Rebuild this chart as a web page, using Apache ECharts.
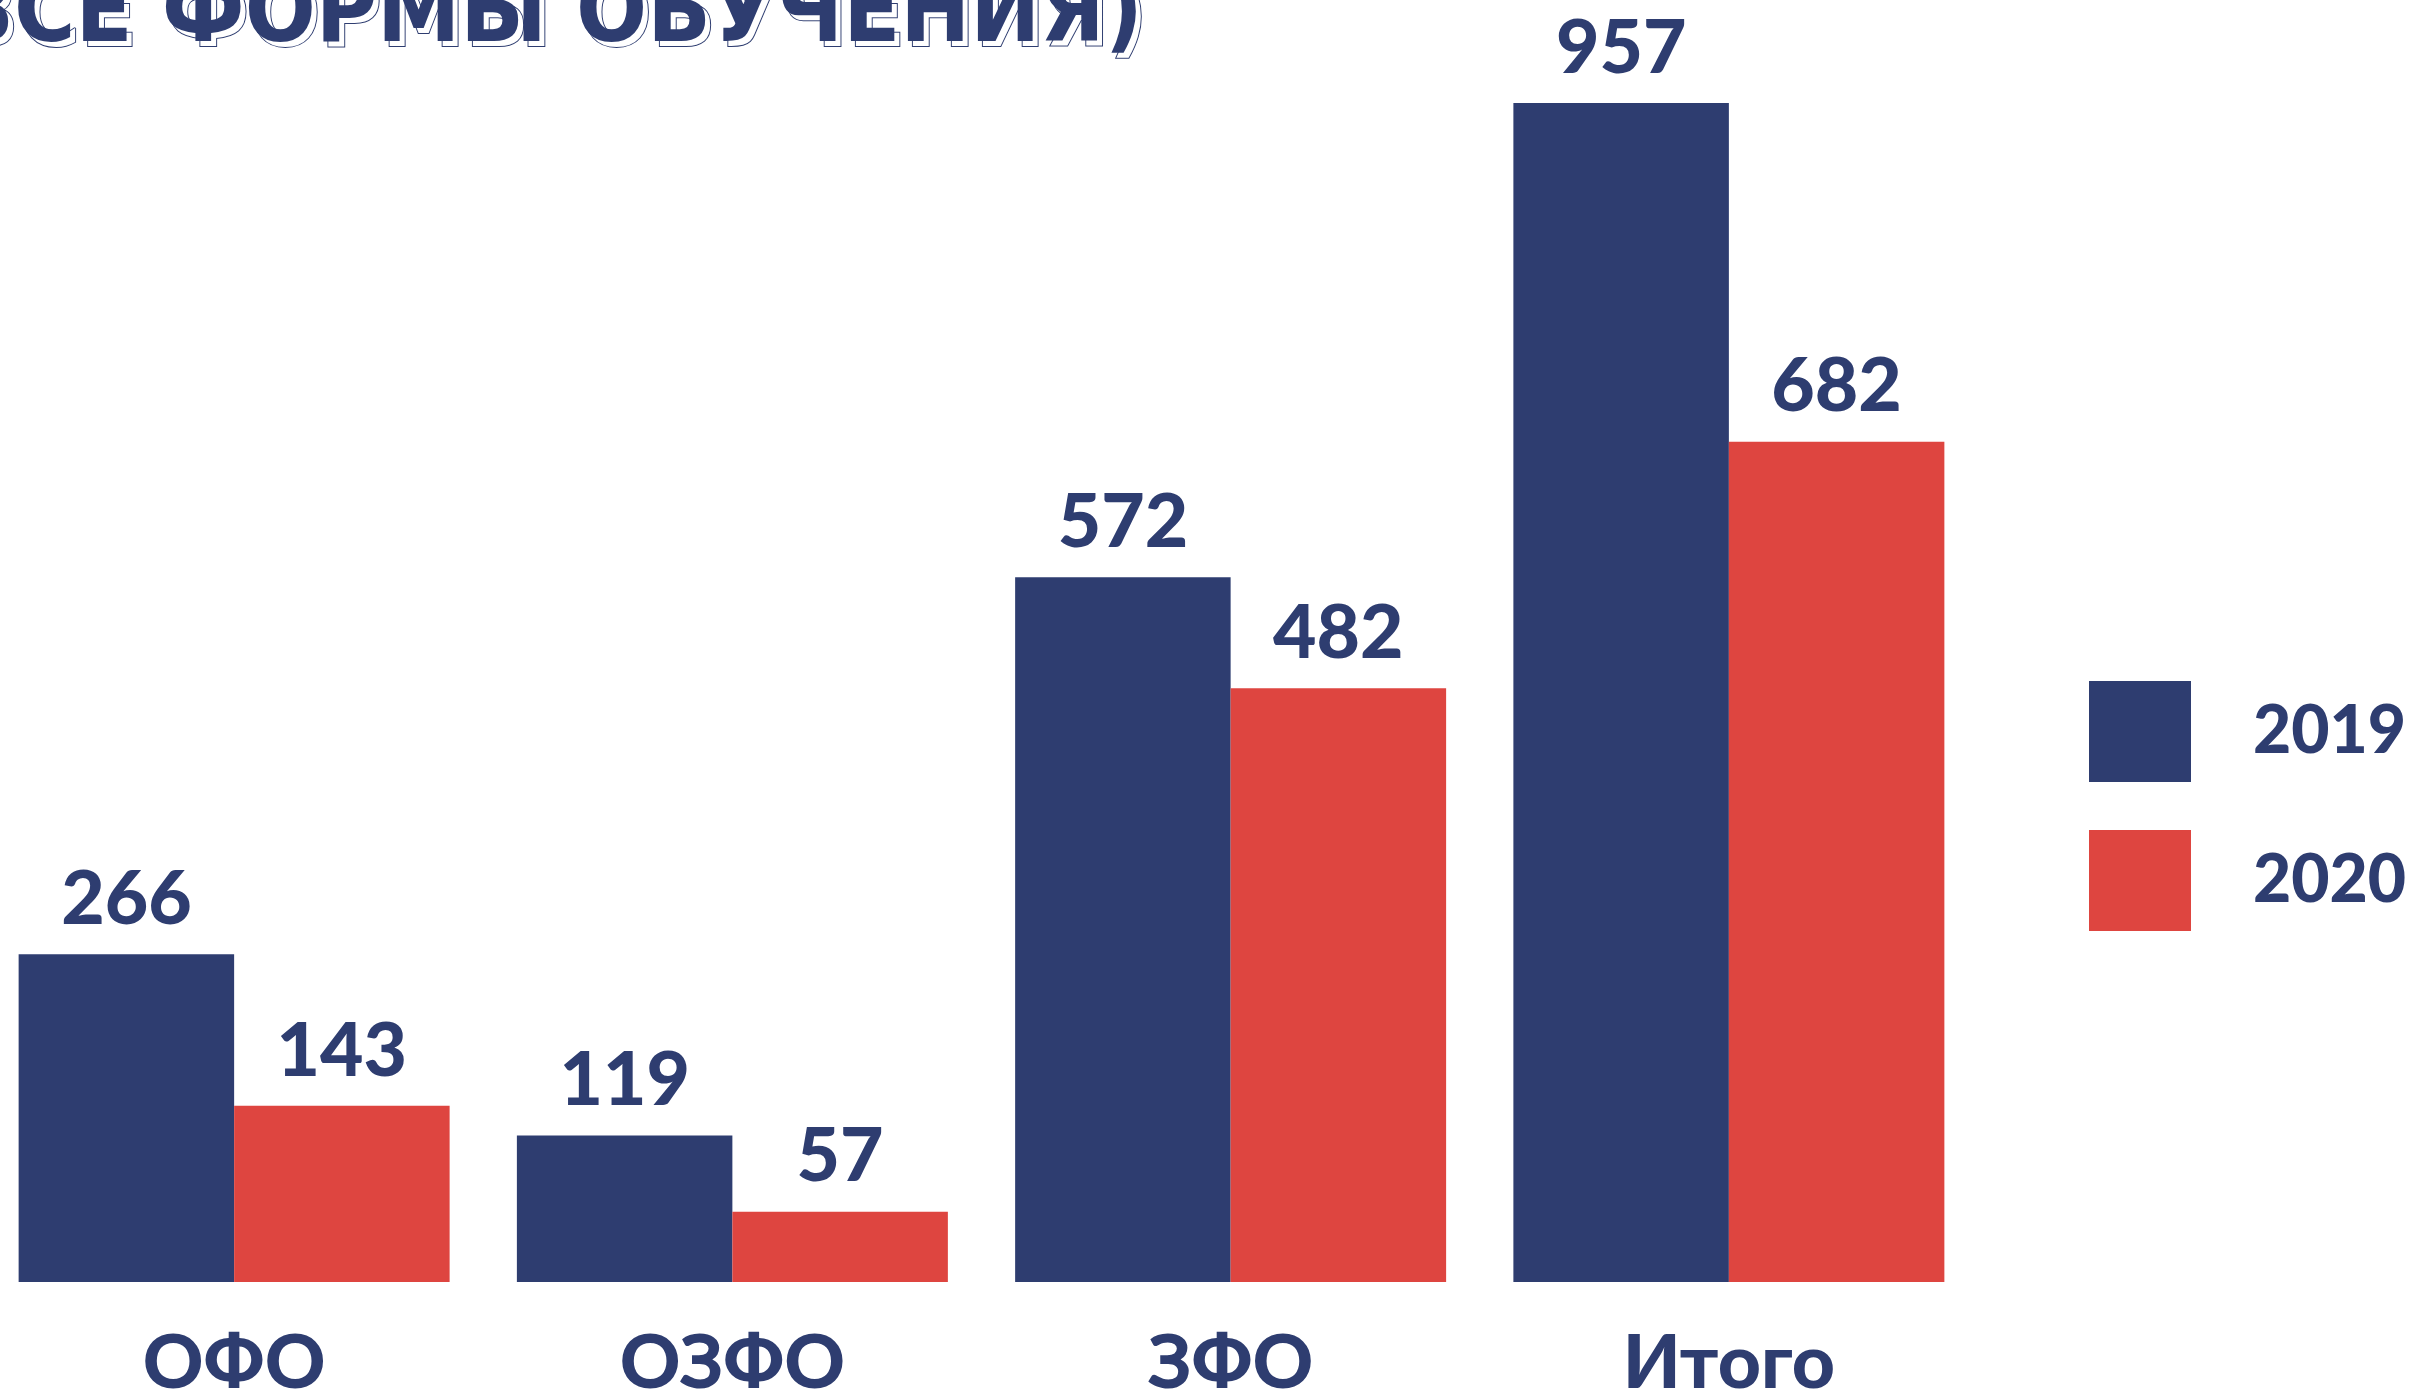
<!DOCTYPE html>
<html>
<head>
<meta charset="utf-8">
<script src="https://cdn.jsdelivr.net/npm/echarts@6/dist/echarts.min.js"></script>
<style>
  html, body { margin: 0; padding: 0; background: #fff; }
  #chart { width: 2411px; height: 1393px; }
</style>
</head>
<body>
<div id="chart"></div>
<script>
// data
var categories = ['ОФО', 'ОЗФО', 'ЗФО', 'Итого']
var years = ['2019', '2020']
var values2019 = [266, 119, 572, 957]
var values2020 = [143, 57, 482, 682]
var titleText = '(ВСЕ ФОРМЫ ОБУЧЕНИЯ)'

var blue = '#2e3d70'
var red = '#de4540'
var fontMain = 'Lato, "Noto Sans", sans-serif'
var titleFont = 'bold 93px "DejaVu Sans Condensed", "DejaVu Sans", sans-serif'

var chart = echarts.init(document.getElementById('chart'))

function valueLabel () {
  return {
    show: true,
    position: 'top',
    distance: 17,
    color: blue,
    fontFamily: fontMain,
    fontWeight: 900,
    fontSize: 75
  }
}

chart.setOption({
  animation: false,
  backgroundColor: '#ffffff',
  grid: {
    left: -15,
    width: 1993,
    top: 50,
    bottom: 111,
    containLabel: false,
    outerBoundsMode: 'none'
  },
  legend: {
    data: years,
    orient: 'vertical',
    left: 2089,
    top: 681,
    padding: 0,
    itemWidth: 102,
    itemHeight: 101,
    itemGap: 48,
    icon: 'rect',
    textStyle: {
      color: blue,
      fontFamily: fontMain,
      fontWeight: 900,
      fontSize: 66,
      padding: [0, 0, 0, 57]
    }
  },
  xAxis: {
    type: 'category',
    data: categories,
    axisLine: { show: false },
    axisTick: { show: false },
    axisLabel: {
      margin: 44,
      color: blue,
      fontFamily: fontMain,
      fontWeight: 900,
      fontSize: 75
    }
  },
  yAxis: {
    type: 'value',
    min: 0,
    max: 1000,
    show: false,
    splitLine: { show: false }
  },
  series: [
    {
      name: years[0],
      type: 'bar',
      data: values2019,
      barGap: '0%',
      barCategoryGap: '13.5%',
      itemStyle: { color: blue },
      label: valueLabel()
    },
    {
      name: years[1],
      type: 'bar',
      data: values2020,
      barGap: '0%',
      barCategoryGap: '13.5%',
      itemStyle: { color: red },
      label: valueLabel()
    }
  ],
  graphic: [
    {
      type: 'text',
      x: -88 + 5,
      y: 63 + 5,
      silent: true,
      style: {
        text: titleText,
        font: titleFont,
        fill: '#ffffff',
        stroke: blue,
        lineWidth: 2,
        textVerticalAlign: 'bottom'
      }
    },
    {
      type: 'text',
      x: -88,
      y: 63,
      silent: true,
      style: {
        text: titleText,
        font: titleFont,
        fill: blue,
        textVerticalAlign: 'bottom'
      }
    }
  ]
})
</script>
</body>
</html>
